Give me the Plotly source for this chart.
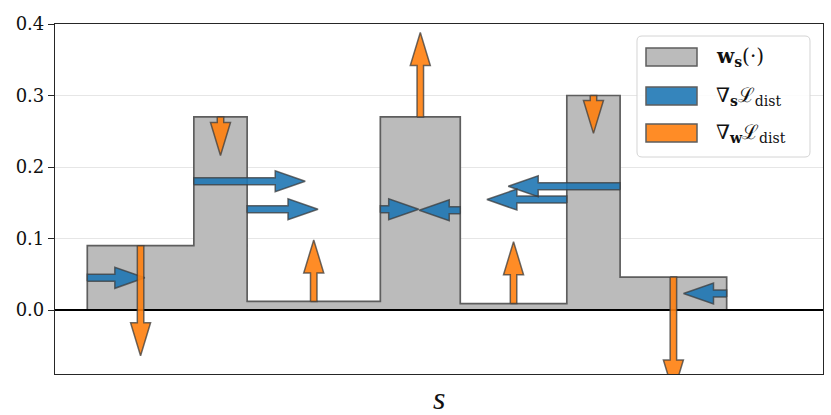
import plotly.graph_objects as go

# ---------------- data ----------------
edges = [0, 2, 3, 5.5, 7, 9, 10, 12]                     # bin edges along s
heights = [0.09, 0.27, 0.012, 0.27, 0.009, 0.30, 0.046]  # w_s(.) per bin

# gradient wrt positions s (horizontal arrows at edges)
grad_s_x0 = [0, 2, 3, 5.5, 7, 10, 9, 12]
grad_s_y = [0.045, 0.18, 0.141, 0.141, 0.1395, 0.173, 0.1545, 0.023]
grad_s_dx = [1.08, 2.09, 1.33, 0.72, -0.77, -2.10, -1.50, -0.81]

# gradient wrt weights w (vertical arrows at bin centres)
grad_w_x = [1, 2.5, 4.25, 6.25, 8, 9.5, 11]
grad_w_y0 = heights
grad_w_dy = [-0.154, -0.054, 0.086, 0.118, 0.0865, -0.053, -0.162]

ytick_vals = [0.0, 0.1, 0.2, 0.3, 0.4]
legend_labels = ["<b>w</b><sub><b>s</b></sub>(·)",
                 "∇<sub><b>s</b></sub>ℒ<sub>dist</sub>",
                 "∇<sub><b>w</b></sub>ℒ<sub>dist</sub>"]

# ---------------- layout geometry ----------------
W, H = 831, 415
ML, MR, MT, MB = 55, 8, 24, 41
PW, PH = W - ML - MR, H - MT - MB
XR = [-0.606, 13.808]
YR = [-0.0895, 0.4]
PXX = PW / (XR[1] - XR[0])   # px per x unit
PXY = PH / (YR[1] - YR[0])   # px per y unit

FONT = "DejaVu Serif"
GRAY = "#bbbbbb"
EDGE = "rgba(60,60,60,0.75)"
BLUE = "rgba(31,119,180,0.9)"
ORANGE = "rgba(255,127,14,0.9)"


def harrow(x0, y, dx, sw=7, hw=21, hl=30):
    x1 = x0 + dx
    d = 1 if dx > 0 else -1
    xb = x1 - d * hl / PXX
    s, h = sw / 2 / PXY, hw / 2 / PXY
    xs = [x0, xb, xb, x1, xb, xb, x0, x0, None]
    ys = [y - s, y - s, y - h, y, y + h, y + s, y + s, y - s, None]
    return xs, ys


def varrow(x, y0, dy, sw=6.5, hw=20, hl=33):
    y1 = y0 + dy
    d = 1 if dy > 0 else -1
    yb = y1 - d * hl / PXY
    s, h = sw / 2 / PXX, hw / 2 / PXX
    xs = [x - s, x - s, x - h, x, x + h, x + s, x + s, x - s, None]
    ys = [y0, yb, yb, y1, yb, yb, y0, y0, None]
    return xs, ys


fig = go.Figure()

# step histogram
sx = [edges[0]] + edges[:-1] + [edges[-1]]
sy = [0] + heights + [0]
fig.add_trace(go.Scatter(x=sx, y=sy, mode="lines", line=dict(shape="hv", color="#5e5e5e", width=1.7),
                         fill="tozeroy", fillcolor=GRAY, showlegend=False, hoverinfo="skip"))

# zero line
fig.add_trace(go.Scatter(x=XR, y=[0, 0], mode="lines", line=dict(color="black", width=1.8),
                         showlegend=False, hoverinfo="skip"))

# blue arrows
bx, by = [], []
for x0, y, dx in zip(grad_s_x0, grad_s_y, grad_s_dx):
    a, b = harrow(x0, y, dx)
    bx += a
    by += b
fig.add_trace(go.Scatter(x=bx, y=by, mode="lines", fill="toself", fillcolor=BLUE,
                         line=dict(color=EDGE, width=1.5), showlegend=False, hoverinfo="skip"))

# orange arrows
ox, oy = [], []
for x, y0, dy in zip(grad_w_x, grad_w_y0, grad_w_dy):
    a, b = varrow(x, y0, dy)
    ox += a
    oy += b
fig.add_trace(go.Scatter(x=ox, y=oy, mode="lines", fill="toself", fillcolor=ORANGE,
                         line=dict(color=EDGE, width=1.5), showlegend=False, hoverinfo="skip"))


# ---------------- manual legend ----------------
def px2paper(px, py):
    return (px - ML) / PW, (H - MB - py) / PH


def P(px, py):
    x, y = px2paper(px, py)
    return f"{x:.5f},{y:.5f}"


shapes = []
lx0, ly0, lx1, ly1, r = 637, 36, 810, 157, 5
path = (f"M {P(lx0 + r, ly0)} L {P(lx1 - r, ly0)} Q {P(lx1, ly0)} {P(lx1, ly0 + r)} "
        f"L {P(lx1, ly1 - r)} Q {P(lx1, ly1)} {P(lx1 - r, ly1)} "
        f"L {P(lx0 + r, ly1)} Q {P(lx0, ly1)} {P(lx0, ly1 - r)} "
        f"L {P(lx0, ly0 + r)} Q {P(lx0, ly0)} {P(lx0 + r, ly0)} Z")
shapes.append(dict(type="path", xref="paper", yref="paper", path=path,
                   fillcolor="rgba(255,255,255,0.85)", line=dict(color="#d4d4d4", width=1), layer="above"))

patch_colors = [GRAY, "#3585bc", "#ff8c26"]
row_y = [57, 96, 133]
annotations = []
for lab, col, ry in zip(legend_labels, patch_colors, row_y):
    x0p, y0p = px2paper(646, ry - 9)
    x1p, y1p = px2paper(697, ry + 9)
    shapes.append(dict(type="rect", xref="paper", yref="paper", x0=x0p, x1=x1p, y0=y1p, y1=y0p,
                       fillcolor=col, line=dict(color="#5e5e5e", width=1.5), layer="above"))
    tx, ty = px2paper(714, ry)
    annotations.append(dict(xref="paper", yref="paper", x=tx, y=ty, xanchor="left", yanchor="middle",
                            text=lab, showarrow=False, font=dict(family=FONT, size=20, color="#111")))

# axis title s
tx, ty = px2paper(439, 398)
annotations.append(dict(xref="paper", yref="paper", x=tx, y=ty, xanchor="center", yanchor="middle",
                        text="<i>s</i>", showarrow=False,
                        font=dict(family="Liberation Serif", size=32, color="#111")))

fig.update_layout(
    width=W, height=H,
    margin=dict(l=ML, r=MR, t=MT, b=MB, autoexpand=False),
    plot_bgcolor="white", paper_bgcolor="white",
    showlegend=False,
    shapes=shapes, annotations=annotations,
    xaxis=dict(range=XR, showgrid=False, zeroline=False, showticklabels=False, ticks="",
               automargin=False,
               showline=True, mirror=True, linecolor="#262626", linewidth=1.2),
    yaxis=dict(range=YR, tickvals=ytick_vals, tickformat=".1f", showgrid=True, gridcolor="#e6e6e6",
               gridwidth=1, zeroline=False, ticks="outside", ticklen=6, tickcolor="#262626",
               automargin=False,
               showline=True, mirror=True, linecolor="#262626", linewidth=1.2,
               tickfont=dict(family=FONT, size=18, color="#111")),
)

fig.write_html("out.html", config={"displayModeBar": False},
               post_script="document.body.style.margin='0';document.body.style.overflow='hidden';")
